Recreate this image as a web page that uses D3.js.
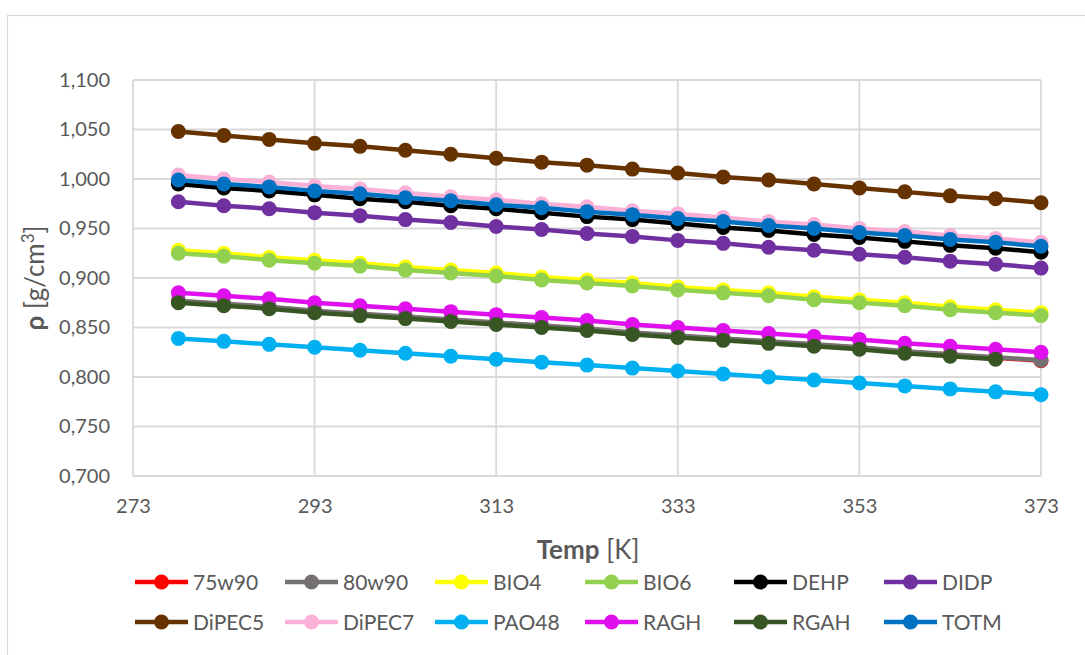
<!DOCTYPE html>
<html>
<head>
<meta charset="utf-8">
<script src="https://cdn.jsdelivr.net/npm/d3@7"></script>
<style>
  html, body { margin: 0; padding: 0; background: #fff; }
  svg { display: block; font-family: Lato, "Open Sans", sans-serif; }
</style>
</head>
<body>
<svg id="chart" width="1085" height="655"></svg>
<script>
// Temperature steps [K]
const temps = [278, 283, 288, 293, 298, 303, 308, 313, 318, 323, 328, 333, 338, 343, 348, 353, 358, 363, 368, 373];
const xTicks = [273, 293, 313, 333, 353, 373];
const yTicks = [0.700, 0.750, 0.800, 0.850, 0.900, 0.950, 1.000, 1.050, 1.100];

// Density [g/cm3] per lubricant
const s75w90  = [0.8765, 0.8735, 0.8705, 0.8665, 0.8635, 0.8605, 0.8575, 0.8545, 0.8515, 0.8485, 0.8445, 0.8415, 0.8385, 0.8355, 0.8325, 0.8295, 0.8255, 0.8225, 0.8195, 0.8165];
const s80w90  = [0.877, 0.874, 0.871, 0.867, 0.864, 0.861, 0.858, 0.855, 0.852, 0.849, 0.845, 0.842, 0.839, 0.836, 0.833, 0.830, 0.826, 0.823, 0.820, 0.817];
const sBIO4   = [0.928, 0.925, 0.921, 0.918, 0.915, 0.911, 0.908, 0.905, 0.901, 0.898, 0.895, 0.891, 0.888, 0.885, 0.881, 0.878, 0.875, 0.871, 0.868, 0.865];
const sBIO6   = [0.925, 0.922, 0.918, 0.915, 0.912, 0.908, 0.905, 0.902, 0.898, 0.895, 0.892, 0.888, 0.885, 0.882, 0.878, 0.875, 0.872, 0.868, 0.865, 0.862];
const sDEHP   = [0.995, 0.991, 0.988, 0.984, 0.980, 0.977, 0.973, 0.970, 0.966, 0.962, 0.959, 0.955, 0.951, 0.948, 0.944, 0.941, 0.937, 0.933, 0.930, 0.926];
const sDIDP   = [0.977, 0.973, 0.970, 0.966, 0.963, 0.959, 0.956, 0.952, 0.949, 0.945, 0.942, 0.938, 0.935, 0.931, 0.928, 0.924, 0.921, 0.917, 0.914, 0.910];
const sDiPEC5 = [1.048, 1.044, 1.040, 1.036, 1.033, 1.029, 1.025, 1.021, 1.017, 1.014, 1.010, 1.006, 1.002, 0.999, 0.995, 0.991, 0.987, 0.983, 0.980, 0.976];
const sDiPEC7 = [1.004, 1.000, 0.997, 0.993, 0.990, 0.986, 0.982, 0.979, 0.975, 0.972, 0.968, 0.965, 0.961, 0.957, 0.954, 0.950, 0.947, 0.943, 0.940, 0.936];
const sPAO48  = [0.839, 0.836, 0.833, 0.830, 0.827, 0.824, 0.821, 0.818, 0.815, 0.812, 0.809, 0.806, 0.803, 0.800, 0.797, 0.794, 0.791, 0.788, 0.785, 0.782];
const sRAGH   = [0.885, 0.882, 0.879, 0.875, 0.872, 0.869, 0.866, 0.863, 0.860, 0.857, 0.853, 0.850, 0.847, 0.844, 0.841, 0.838, 0.834, 0.831, 0.828, 0.825];
const sRGAH   = [0.875, 0.872, 0.869, 0.865, 0.862, 0.859, 0.856, 0.853, 0.850, 0.847, 0.843, 0.840, 0.837, 0.834, 0.831, 0.828, 0.824, 0.821, 0.818];
const sTOTM   = [0.999, 0.995, 0.992, 0.988, 0.985, 0.981, 0.978, 0.974, 0.971, 0.967, 0.964, 0.960, 0.957, 0.953, 0.950, 0.946, 0.943, 0.939, 0.936, 0.932];

const names  = ["75w90", "80w90", "BIO4", "BIO6", "DEHP", "DIDP", "DiPEC5", "DiPEC7", "PAO48", "RAGH", "RGAH", "TOTM"];
const values = [s75w90, s80w90, sBIO4, sBIO6, sDEHP, sDIDP, sDiPEC5, sDiPEC7, sPAO48, sRAGH, sRGAH, sTOTM];
const colors = ["#FF0000", "#767171", "#FFFF00", "#92D050", "#000000", "#7030A0", "#663300", "#FBB0D8", "#00B0F0", "#E010EE", "#375623", "#0070C0"];

const series = names.map((n, i) => ({
  name: n,
  color: colors[i],
  points: values[i].map((v, j) => ({ t: temps[j], v: v }))
}));

const svg = d3.select("#chart");
const W = 1085, H = 655;
const plot = { left: 133, right: 1041, top: 80, bottom: 476 };

const x = d3.scaleLinear().domain([273, 373]).range([plot.left, plot.right]);
const y = d3.scaleLinear().domain([0.7, 1.1]).range([plot.bottom, plot.top]);

const locale = d3.formatLocale({ decimal: ",", thousands: ".", grouping: [3], currency: ["", ""] });
const fmt = locale.format(".3f");

// chart frame
svg.append("rect")
  .attr("x", 7.5).attr("y", 15.5)
  .attr("width", W + 20).attr("height", H + 20)
  .attr("fill", "#fff").attr("stroke", "#d9d9d9").attr("stroke-width", 1.2);

// gridlines
const grid = svg.append("g");
grid.selectAll("line.h").data(yTicks).join("line")
  .attr("x1", plot.left).attr("x2", plot.right)
  .attr("y1", d => y(d)).attr("y2", d => y(d))
  .attr("stroke", "#d9d9d9").attr("stroke-width", 1.8);
grid.selectAll("line.v").data(xTicks).join("line")
  .attr("y1", plot.top).attr("y2", plot.bottom)
  .attr("x1", d => x(d)).attr("x2", d => x(d))
  .attr("stroke", "#d9d9d9").attr("stroke-width", 1.8);

// axes (labels only, lines come from the grid)
const yAxis = svg.append("g")
  .attr("transform", `translate(${plot.left},0)`)
  .call(d3.axisLeft(y).tickValues(yTicks).tickFormat(fmt).tickSize(0).tickPadding(23));
const xAxis = svg.append("g")
  .attr("transform", `translate(0,${plot.bottom})`)
  .call(d3.axisBottom(x).tickValues(xTicks).tickFormat(d3.format("d")).tickSize(0).tickPadding(23));
[yAxis, xAxis].forEach(a => {
  a.select(".domain").remove();
  a.selectAll("text").attr("fill", "#595959").style("font-size", "20px").style("font-family", "Lato, sans-serif");
});

// series lines and markers
const line = d3.line().x(d => x(d.t)).y(d => y(d.v));
const sg = svg.append("g");
series.forEach(s => {
  const g = sg.append("g");
  g.append("path")
    .datum(s.points)
    .attr("d", line)
    .attr("fill", "none")
    .attr("stroke", s.color)
    .attr("stroke-width", 4.5)
    .attr("stroke-linejoin", "round");
  g.selectAll("circle").data(s.points).join("circle")
    .attr("cx", d => x(d.t)).attr("cy", d => y(d.v))
    .attr("r", 7.5)
    .attr("fill", s.color);
});

// axis titles
const xt = svg.append("text")
  .attr("x", (plot.left + plot.right) / 2 + 1).attr("y", 559)
  .attr("text-anchor", "middle")
  .attr("fill", "#595959")
  .style("font-size", "26px");
xt.append("tspan").attr("font-weight", "bold").text("Temp");
xt.append("tspan").text(" [K]");

const yt = svg.append("text")
  .attr("transform", `translate(44,${(plot.top + plot.bottom) / 2}) rotate(-90)`)
  .attr("text-anchor", "middle")
  .attr("fill", "#595959")
  .style("font-size", "26px");
yt.append("tspan").attr("font-weight", "bold").text("ρ");
yt.append("tspan").text(" [g/cm");
yt.append("tspan").attr("baseline-shift", "super").style("font-size", "17px").text("3");
yt.append("tspan").text("]");

// legend: two rows of six
const colX = [135, 285, 435, 585, 734, 884];
const rowY = [582, 622];
const leg = svg.append("g");
series.forEach((s, i) => {
  const gx = colX[i % 6], gy = rowY[Math.floor(i / 6)];
  const g = leg.append("g").attr("transform", `translate(${gx},${gy})`);
  g.append("line").attr("x1", 0).attr("x2", 53).attr("y1", 0).attr("y2", 0)
    .attr("stroke", s.color).attr("stroke-width", 4.5);
  g.append("circle").attr("cx", 26.5).attr("cy", 0).attr("r", 7.5).attr("fill", s.color);
  g.append("text").attr("x", 58).attr("y", 0).attr("dy", "0.36em")
    .attr("fill", "#595959").style("font-size", "21px").text(s.name);
});
</script>
</body>
</html>
